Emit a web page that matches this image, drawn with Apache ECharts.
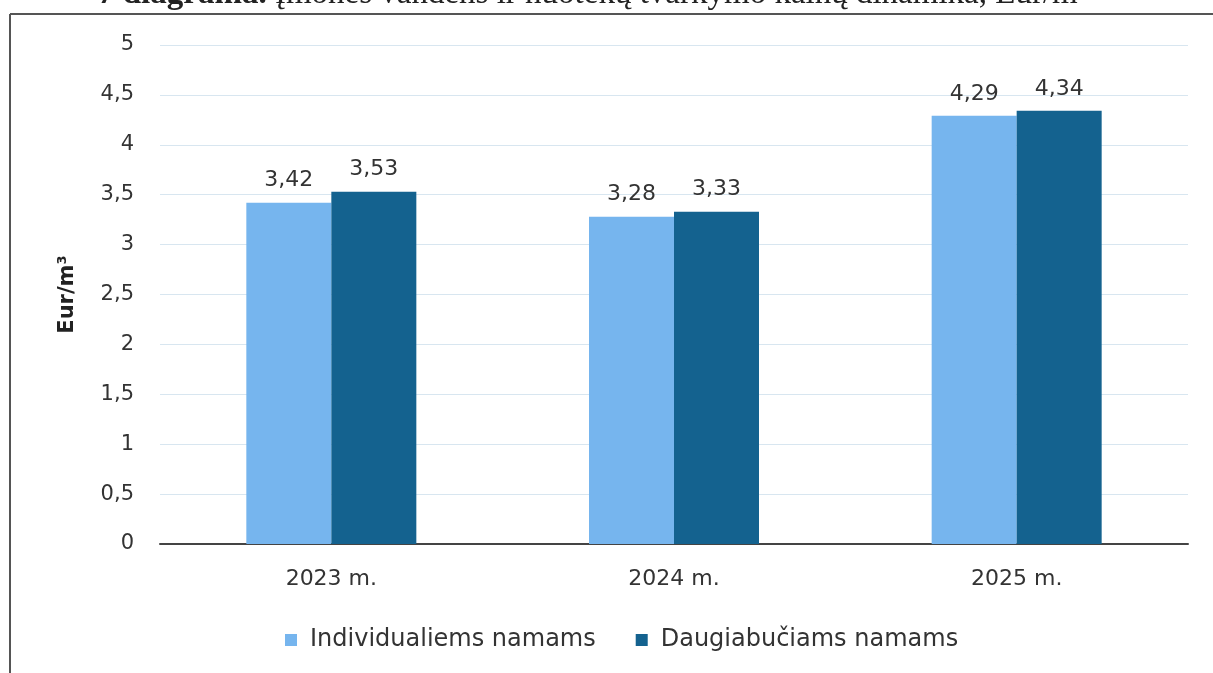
<!DOCTYPE html>
<html>
<head>
<meta charset="utf-8">
<script src="https://cdn.jsdelivr.net/npm/echarts@6/dist/echarts.min.js"></script>
<style>
  html, body { margin: 0; padding: 0; background: #fff; }
  #chart { width: 1213px; height: 673px; }
</style>
</head>
<body>
<div id="chart"></div>
<script>
// duomenys
const years = ['2023 m.', '2024 m.', '2025 m.'];
const individualiems = [3.42, 3.28, 4.29];
const daugiabuciams = [3.53, 3.33, 4.34];
const seriesNames = ['Individualiems namams', 'Daugiabučiams namams'];

const chart = echarts.init(document.getElementById('chart'));
const font = '"DejaVu Sans", sans-serif';
const serif = '"Liberation Serif", serif';
const comma = v => String(v).replace('.', ',');

const option = {
  animation: false,
  backgroundColor: '#fff',
  textStyle: { fontFamily: font },
  graphic: [
    // nukirpta antraštė viršuje
    {
      type: 'text', left: 98, top: -22,
      style: {
        text: '{b|7 diagrama.} Įmonės vandens ir nuotekų tvarkymo kainų dinamika, Eur/m³',
        font: '33px ' + serif, fill: '#222',
        rich: { b: { fontWeight: 'bold', fontSize: 33, fontFamily: serif } }
      }
    },
    // rėmelis
    { type: 'line', shape: { x1: 10, y1: 14, x2: 1213, y2: 14 }, style: { stroke: '#555', lineWidth: 2 } },
    { type: 'line', shape: { x1: 10, y1: 14, x2: 10, y2: 673 }, style: { stroke: '#555', lineWidth: 2 } }
  ],
  grid: { left: 160, right: 25, top: 45, bottom: 129 },
  legend: {
    data: seriesNames,
    top: 623, left: 280,
    icon: 'rect', itemWidth: 12, itemHeight: 12, itemGap: 40,
    textStyle: { fontSize: 24, color: '#333', fontFamily: font, padding: [0, 0, 0, 8] }
  },
  xAxis: {
    type: 'category',
    data: years,
    axisTick: { show: false },
    axisLine: { lineStyle: { color: '#444', width: 2 } },
    axisLabel: { fontSize: 22, color: '#333', margin: 24 }
  },
  yAxis: {
    type: 'value',
    min: 0, max: 5, interval: 0.5,
    name: 'Eur/m³',
    nameLocation: 'middle',
    nameGap: 82,
    nameTextStyle: { fontSize: 21, fontWeight: 'bold', color: '#222', fontFamily: font },
    axisLabel: { fontSize: 21, color: '#333', margin: 26, formatter: comma },
    splitLine: { lineStyle: { color: '#d8e6f0', width: 1 } }
  },
  series: [
    {
      name: seriesNames[0], type: 'bar', data: individualiems,
      barWidth: 85, barGap: '0%',
      itemStyle: { color: '#76B5EE' },
      label: { show: true, position: 'top', distance: 11, fontSize: 22, color: '#333', formatter: p => comma(p.value) }
    },
    {
      name: seriesNames[1], type: 'bar', data: daugiabuciams,
      barWidth: 85, barGap: '0%',
      itemStyle: { color: '#14628F' },
      label: { show: true, position: 'top', distance: 11, fontSize: 22, color: '#333', formatter: p => comma(p.value) }
    }
  ]
};
chart.setOption(option);
</script>
</body>
</html>
